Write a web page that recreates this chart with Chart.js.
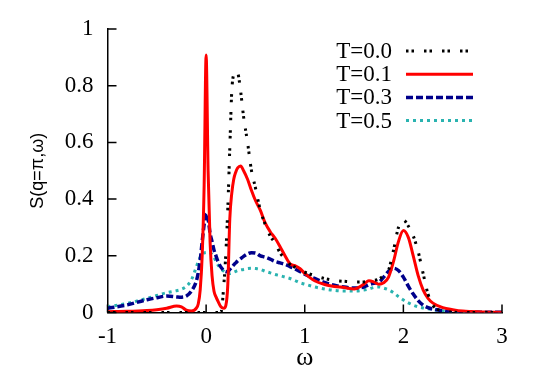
<!DOCTYPE html>
<html>
<head>
<meta charset="utf-8">
<script src="https://cdn.jsdelivr.net/npm/chart.js@4.4.0/dist/chart.umd.min.js"></script>
<style>
  html, body { margin: 0; padding: 0; background: #fff; }
  #wrap { width: 538px; height: 377px; }
</style>
</head>
<body>
<div id="wrap"><canvas id="c" width="538" height="377"></canvas></div>
<script>
// frequency grid (omega) shared by all curves
const omega = [
  -1, -0.8, -0.6, -0.5, -0.4, -0.3, -0.25, -0.2, -0.15, -0.1,
  -0.08, -0.06, -0.04, -0.02, 0, 0.02, 0.04, 0.06, 0.08, 0.1,
  0.12, 0.15, 0.18, 0.2, 0.22, 0.24, 0.26, 0.28, 0.3, 0.32,
  0.35, 0.38, 0.42, 0.46, 0.5, 0.55, 0.6, 0.65, 0.7, 0.75,
  0.8, 0.85, 0.9, 0.95, 1.0, 1.1, 1.2, 1.3, 1.4, 1.5,
  1.6, 1.65, 1.7, 1.75, 1.8, 1.85, 1.9, 1.95, 2.0, 2.05,
  2.1, 2.15, 2.2, 2.25, 2.3, 2.4, 2.5, 2.6, 2.8, 3.0
];

const sT00 = [
  0, 0, 0, 0, 0, 0, 0, 0, 0, 0,
  0, 0, 0, 0, 0, 0, 0, 0, 0, 0,
  0, 0, 0.1, 0.21, 0.37, 0.58, 0.78, 0.84, 0.849, 0.845,
  0.78, 0.69, 0.6, 0.5, 0.44, 0.36, 0.31, 0.27, 0.245, 0.21,
  0.19, 0.17, 0.16, 0.15, 0.142, 0.13, 0.12, 0.113, 0.11, 0.108,
  0.108, 0.11, 0.113, 0.118, 0.13, 0.15, 0.22, 0.3, 0.326, 0.305,
  0.27, 0.215, 0.138, 0.065, 0.025, 0.005, 0.001, 0, 0, 0
];

const sT01 = [
  0.003, 0.004, 0.007, 0.01, 0.015, 0.023, 0.02, 0.008, 0.005, 0.015,
  0.03, 0.08, 0.2, 0.45, 0.908, 0.5, 0.25, 0.13, 0.075, 0.055,
  0.04, 0.02, 0.015, 0.025, 0.1, 0.33, 0.42, 0.47, 0.495, 0.51,
  0.517, 0.5, 0.47, 0.43, 0.395, 0.36, 0.315, 0.285, 0.262, 0.232,
  0.2, 0.172, 0.165, 0.155, 0.138, 0.112, 0.099, 0.092, 0.088, 0.083,
  0.1, 0.112, 0.108, 0.1, 0.105, 0.125, 0.18, 0.25, 0.289, 0.265,
  0.2, 0.13, 0.08, 0.05, 0.033, 0.017, 0.01, 0.005, 0.002, 0.001
];

const sT03 = [
  0.015, 0.027, 0.045, 0.052, 0.058, 0.055, 0.054, 0.058, 0.075, 0.11,
  0.14, 0.185, 0.25, 0.31, 0.35, 0.33, 0.28, 0.25, 0.22, 0.2,
  0.18, 0.16, 0.148, 0.144, 0.145, 0.152, 0.16, 0.168, 0.175, 0.182,
  0.19, 0.198, 0.207, 0.211, 0.21, 0.2, 0.195, 0.188, 0.18, 0.175,
  0.17, 0.162, 0.154, 0.145, 0.135, 0.12, 0.106, 0.096, 0.09, 0.086,
  0.09, 0.098, 0.103, 0.106, 0.125, 0.145, 0.156, 0.148, 0.125, 0.093,
  0.065, 0.042, 0.026, 0.017, 0.012, 0.006, 0.003, 0.002, 0.001, 0.001
];

const sT05 = [
  0.02, 0.032, 0.05, 0.06, 0.07, 0.077, 0.082, 0.092, 0.115, 0.16,
  0.18, 0.195, 0.205, 0.21, 0.212, 0.212, 0.21, 0.205, 0.195, 0.18,
  0.168, 0.155, 0.145, 0.14, 0.138, 0.138, 0.14, 0.142, 0.145, 0.148,
  0.15, 0.152, 0.155, 0.156, 0.155, 0.152, 0.145, 0.14, 0.134, 0.13,
  0.125, 0.12, 0.113, 0.105, 0.1, 0.09, 0.083, 0.078, 0.076, 0.076,
  0.079, 0.083, 0.088, 0.09, 0.086, 0.08, 0.07, 0.056, 0.044, 0.034,
  0.026, 0.02, 0.016, 0.013, 0.01, 0.006, 0.003, 0.002, 0.001, 0
];

const labels = ['T=0.0', 'T=0.1', 'T=0.3', 'T=0.5'];
const xTicks = [-1, 0, 1, 2, 3];
const yTicks = [0, 0.2, 0.4, 0.6, 0.8, 1];

const serif = "'Liberation Serif', 'DejaVu Serif', serif";
const sans = "'Liberation Sans', Arial, sans-serif";

const toPoints = (ys) => omega.map((x, i) => ({ x: x, y: ys[i] }));

// inward ticks, axis titles and a gnuplot-like legend (text then sample line)
const decor = {
  id: 'decor',
  afterDraw(chart) {
    const ctx = chart.ctx;
    const xs = chart.scales.x;
    const ys = chart.scales.y;
    const area = chart.chartArea;
    ctx.save();
    ctx.strokeStyle = '#000';
    ctx.lineWidth = 1.5;
    ctx.setLineDash([]);
    ctx.beginPath();
    xTicks.forEach(v => {
      const px = xs.getPixelForValue(v);
      ctx.moveTo(px, area.bottom);
      ctx.lineTo(px, area.bottom - 8);
    });
    yTicks.forEach(v => {
      const py = ys.getPixelForValue(v);
      ctx.moveTo(area.left, py);
      ctx.lineTo(area.left + 9, py);
    });
    ctx.stroke();

    // axis titles
    ctx.fillStyle = '#000';
    ctx.font = '26px ' + serif;
    ctx.textAlign = 'center';
    ctx.textBaseline = 'middle';
    ctx.fillText('ω', (area.left + area.right) / 2, 358);
    ctx.save();
    ctx.translate(38, (area.top + area.bottom) / 2);
    ctx.rotate(-Math.PI / 2);
    ctx.font = '18px ' + sans;
    ctx.fillText('S(q=π,ω)', 0, 0);
    ctx.restore();

    // legend
    ctx.font = '23px ' + serif;
    ctx.textAlign = 'right';
    chart.data.datasets.forEach((ds, i) => {
      const y = 51 + i * 23.2;
      ctx.fillStyle = '#000';
      ctx.fillText(ds.label, 392, y + 1);
      ctx.strokeStyle = ds.borderColor;
      ctx.lineWidth = ds.borderWidth;
      ctx.setLineDash(ds.borderDash || []);
      ctx.beginPath();
      ctx.moveTo(406, y);
      ctx.lineTo(473, y);
      ctx.stroke();
    });
    ctx.restore();
  }
};

new Chart(document.getElementById('c').getContext('2d'), {
  type: 'line',
  data: {
    datasets: [
      {
        label: labels[0],
        data: toPoints(sT00),
        borderColor: '#000000',
        borderWidth: 3,
        borderDash: [2.5, 3, 2.5, 10],
      },
      {
        label: labels[1],
        data: toPoints(sT01),
        borderColor: '#ff0000',
        borderWidth: 3,
      },
      {
        label: labels[2],
        data: toPoints(sT03),
        borderColor: '#00008b',
        borderWidth: 3.5,
        borderDash: [7, 3],
      },
      {
        label: labels[3],
        data: toPoints(sT05),
        borderColor: '#2ab3b0',
        borderWidth: 3,
        borderDash: [3, 4],
      },
    ],
  },
  options: {
    responsive: false,
    animation: false,
    cubicInterpolationMode: 'monotone',
    elements: { point: { radius: 0 }, line: { fill: false } },
    layout: { padding: { left: 0, top: 29, right: 36, bottom: 0 } },
    plugins: {
      legend: { display: false },
      tooltip: { enabled: false },
    },
    scales: {
      x: {
        type: 'linear',
        min: -1,
        max: 3,
        afterFit: (s) => { s.height = 64.5; },
        afterBuildTicks: (s) => { s.ticks = xTicks.map(v => ({ value: v })); },
        grid: { display: false, drawTicks: false },
        border: { display: true, color: '#000', width: 1.5 },
        ticks: {
          color: '#000',
          font: { family: serif, size: 23 },
          padding: 11,
          maxRotation: 0,
          callback: (v) => String(v),
        },
      },
      y: {
        type: 'linear',
        min: 0,
        max: 1,
        afterFit: (s) => { s.width = 107.5; },
        afterBuildTicks: (s) => { s.ticks = yTicks.map(v => ({ value: v })); },
        grid: { display: false, drawTicks: false },
        border: { display: true, color: '#000', width: 1.5 },
        ticks: {
          color: '#000',
          font: { family: serif, size: 23 },
          padding: 14,
          callback: (v) => String(+v.toFixed(1)),
        },
      },
    },
  },
  plugins: [decor],
});
</script>
</body>
</html>
